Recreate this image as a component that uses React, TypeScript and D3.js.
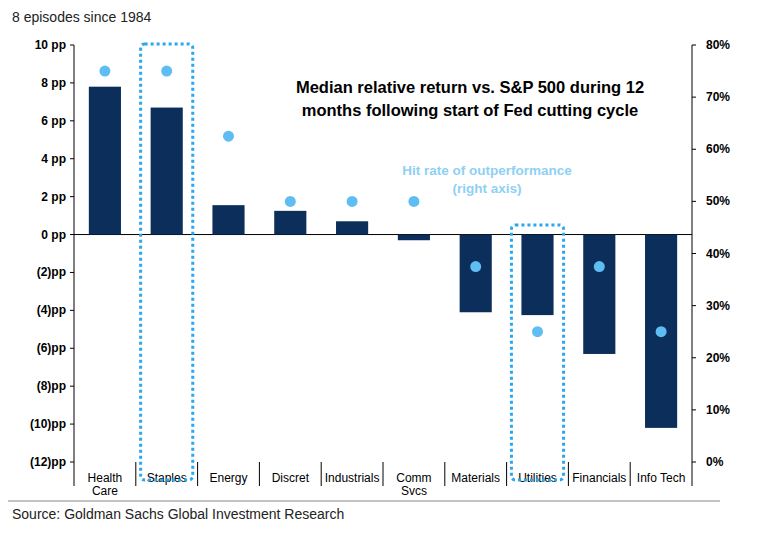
import * as d3 from "d3";

const categories = ["Health Care", "Staples", "Energy", "Discret", "Industrials", "Comm Svcs", "Materials", "Utilities", "Financials", "Info Tech"];
const medianReturn = [7.8, 6.7, 1.55, 1.25, 0.7, -0.3, -4.1, -4.25, -6.3, -10.2];
const hitRate = [75, 75, 62.5, 50, 50, 50, 37.5, 25, 37.5, 25];
const leftTicks = [10, 8, 6, 4, 2, 0, -2, -4, -6, -8, -10, -12];
const rightTicks = [0, 10, 20, 30, 40, 50, 60, 70, 80];
const highlighted = ["Staples", "Utilities"];

const W = 761, H = 538;
const L = 74, R = 692, T = 45, B = 462;
const NAVY = "#0b2f5a";
const LIGHT = "#5ebdf2";

const fmtLeft = (v: number) => (v < 0 ? `(${-v})pp` : `${v} pp`);

export default function App() {
  const x = d3.scaleBand<string>().domain(categories).range([L, R]).paddingInner(0.48).paddingOuter(0.24);
  const y = d3.scaleLinear().domain([-12, 10]).range([B, T]);
  const y2 = d3.scaleLinear().domain([0, 80]).range([B, T]);
  const step = x.step();
  const font = "Arial, Liberation Sans, sans-serif";

  return (
    <svg width={W} height={H} style={{ position: "absolute", left: 0, top: 0, background: "#fff" }} fontFamily={font}>
      <text x={12} y={22} fontSize={14} fill="#222">8 episodes since 1984</text>
      <line x1={L} x2={L} y1={T} y2={B} stroke="#000" />
      <line x1={R} x2={R} y1={T} y2={B} stroke="#000" />
      <line x1={L} x2={R} y1={y(0)} y2={y(0)} stroke="#000" />
      {leftTicks.map((t) => (
        <g key={t}>
          <line x1={L - 4} x2={L} y1={y(t)} y2={y(t)} stroke="#000" />
          <text x={L - 8} y={y(t) + 4} textAnchor="end" fontSize={12} fontWeight="bold">{fmtLeft(t)}</text>
        </g>
      ))}
      {rightTicks.map((t) => (
        <g key={t}>
          <line x1={R} x2={R + 4} y1={y2(t)} y2={y2(t)} stroke="#000" />
          <text x={R + 14} y={y2(t) + 4} fontSize={12} fontWeight="bold">{t}%</text>
        </g>
      ))}
      {categories.map((c, i) => {
        const left = x(c)! - (step - x.bandwidth()) / 2;
        const cx = x(c)! + x.bandwidth() / 2;
        const words = c === "Health Care" ? ["Health", "Care"] : c === "Comm Svcs" ? ["Comm", "Svcs"] : [c];
        return (
          <g key={c}>
            <line x1={left} x2={left} y1={B} y2={B + 24} stroke="#000" />
            {i === categories.length - 1 && <line x1={left + step} x2={left + step} y1={B} y2={B + 24} stroke="#000" />}
            {words.map((w, k) => (
              <text key={k} x={cx} y={B + 20 + k * 13} textAnchor="middle" fontSize={12}>{w}</text>
            ))}
          </g>
        );
      })}
      {categories.map((c, i) => (
        <rect key={c} x={x(c)} width={x.bandwidth()} y={y(Math.max(0, medianReturn[i]))}
          height={Math.abs(y(medianReturn[i]) - y(0))} fill={NAVY} />
      ))}
      {categories.map((c, i) => (
        <circle key={c} cx={x(c)! + x.bandwidth() / 2} cy={y2(hitRate[i])} r={5.5} fill={LIGHT} />
      ))}
      {highlighted.map((c) => (
        <rect key={c} x={x(c)! - 10} width={x.bandwidth() + 20} y={c === "Staples" ? 44 : 225}
          height={c === "Staples" ? 436 : 255} rx={4} fill="none" stroke="#2aa7f0" strokeWidth={3} strokeDasharray="3,3" />
      ))}
      <text x={470} y={93} textAnchor="middle" fontSize={16.5} fontWeight="bold">Median relative return vs. S&amp;P 500 during 12</text>
      <text x={470} y={116} textAnchor="middle" fontSize={16.5} fontWeight="bold">months following start of Fed cutting cycle</text>
      <text x={487} y={175} textAnchor="middle" fontSize={13.5} fill="#8fd0f5" fontWeight="bold">Hit rate of outperformance</text>
      <text x={487} y={193} textAnchor="middle" fontSize={13.5} fill="#8fd0f5" fontWeight="bold">(right axis)</text>
      <line x1={8} x2={720} y1={501} y2={501} stroke="#888" />
      <text x={12} y={519} fontSize={14} fill="#222">Source: Goldman Sachs Global Investment Research</text>
    </svg>
  );
}
